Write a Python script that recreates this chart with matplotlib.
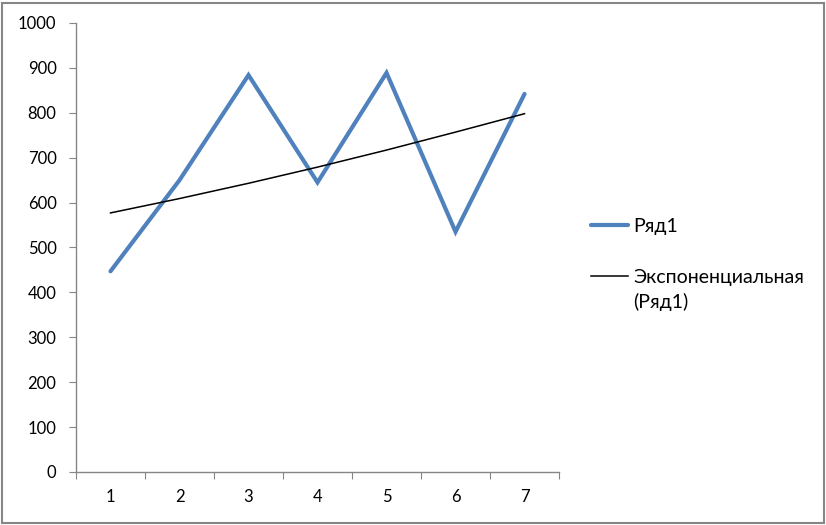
import matplotlib.pyplot as plt
from matplotlib.patches import Rectangle

# Data
categories = [1, 2, 3, 4, 5, 6, 7]
series1 = [447, 650, 884, 645, 889, 535, 842]
# exponential trendline (Ряд1), read at each category
trend = [577, 609, 643, 679, 717, 757, 798]
y_ticks = list(range(0, 1001, 100))

plt.rcParams['font.family'] = ['Lato', 'DejaVu Sans']

fig = plt.figure(figsize=(8.26, 5.25), dpi=100)
ax = fig.add_axes([0.092, 0.101, 0.5848, 0.8552])

ax.plot(categories, series1, color='#4F81BD', linewidth=3.0, label='Ряд1',
        solid_capstyle='round', solid_joinstyle='miter')
ax.plot(categories, trend, color='black', linewidth=1.1,
        label='Экспоненциальная\n(Ряд1)')

ax.set_xlim(0.5, 7.5)
ax.set_ylim(0, 1000)
ax.set_yticks(y_ticks)
ax.tick_params(axis='y', length=5, color='#868686', pad=9, labelsize=12)

# ticks between categories, labels at the categories
ax.set_xticks([c + 0.5 for c in [0] + categories])
ax.set_xticklabels([])
ax.set_xticks(categories, minor=True)
ax.set_xticklabels([str(c) for c in categories], minor=True)
ax.tick_params(axis='x', which='major', length=5, color='#868686')
ax.tick_params(axis='x', which='minor', length=0, pad=12, labelsize=12)

for side in ['top', 'right']:
    ax.spines[side].set_visible(False)
for side in ['left', 'bottom']:
    ax.spines[side].set_color('#868686')
    ax.spines[side].set_linewidth(1.0)

leg = fig.legend(loc='upper left', bbox_to_anchor=(0.694, 0.618), frameon=False,
                 fontsize=14, handlelength=1.9, handletextpad=0.3, labelspacing=1.75)
for t in leg.get_texts():
    t.set_linespacing(1.45)
# Excel puts the trendline sample next to the first line of its label
h = leg.legend_handles[1]
h.set_ydata([y + 10.5 for y in h.get_ydata()])

fig.patches.append(Rectangle((0.002, 0.004), 0.995, 0.99, transform=fig.transFigure,
                             fill=False, edgecolor='#868686', linewidth=1.5))

fig.savefig('out.png', dpi=100)
